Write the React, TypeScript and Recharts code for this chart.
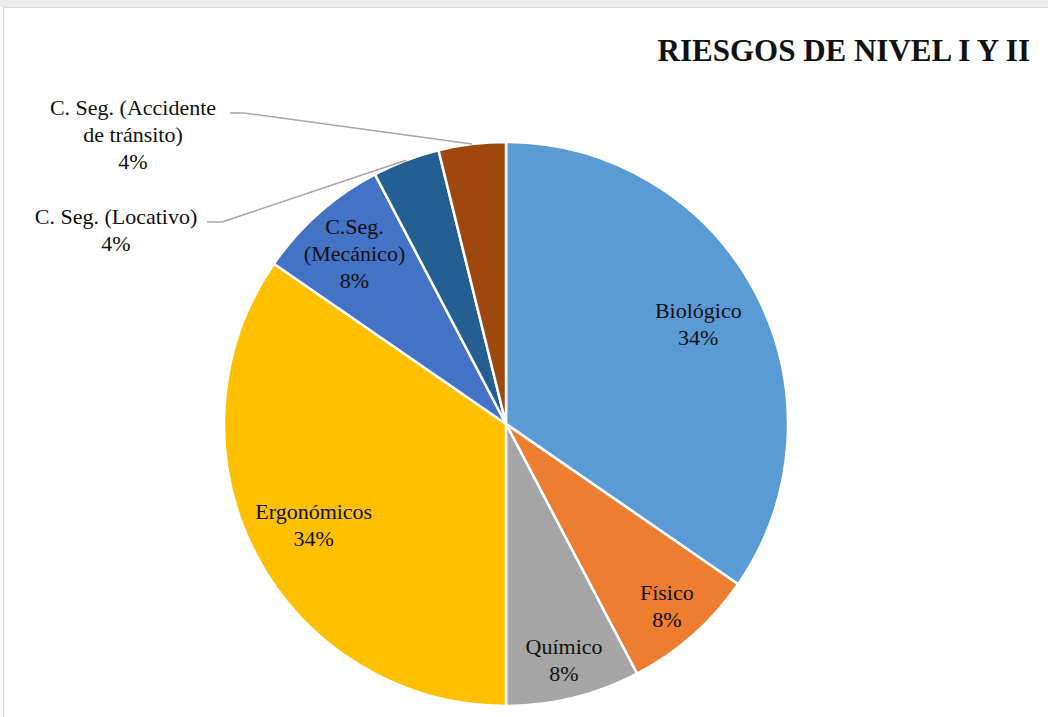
import React from 'react';
import { PieChart, Pie, Cell } from 'recharts';

// slices clockwise from 12 o'clock
const categories = [
  'Biológico',
  'Físico',
  'Químico',
  'Ergonómicos',
  'C.Seg. (Mecánico)',
  'C. Seg. (Locativo)',
  'C. Seg. (Accidente de tránsito)',
];
const counts = [9, 2, 2, 9, 2, 1, 1];
const percentLabels = ['34%', '8%', '8%', '34%', '8%', '4%', '4%'];
const labelText = [
  ['Biológico'],
  ['Físico'],
  ['Químico'],
  ['Ergonómicos'],
  ['C.Seg.', '(Mecánico)'],
  ['C. Seg. (Locativo)'],
  ['C. Seg. (Accidente', 'de tránsito)'],
];
const colors = ['#5B9BD5', '#ED7D31', '#A5A5A5', '#FFC000', '#4472C4', '#255E91', '#9E480E'];

const data = categories.map((name, i) => ({ name, value: counts[i] }));

const RADIAN = Math.PI / 180;
const FONT = '"Liberation Serif", "Times New Roman", serif';
const LINE_H = 27;

// outside labels (small slices): first line centre + leader elbow, relative to pie centre
const outside: Record<number, { tx: number; ty: number; ex: number; ey: number; sx: number }> = {
  5: { tx: -390, ty: -208, ex: -284, ey: -202, sx: -299 },
  6: { tx: -373, ty: -317, ex: -262, ey: -311, sx: -276 },
};

const renderLabel = (props: any) => {
  const { cx, cy, midAngle, outerRadius, index } = props;
  const lines = [...labelText[index], percentLabels[index]];
  const cos = Math.cos(-midAngle * RADIAN);
  const sin = Math.sin(-midAngle * RADIAN);
  let top: number;
  let x: number;
  let leader: React.ReactNode = null;
  const o = outside[index];
  if (o) {
    x = cx + o.tx;
    top = cy + o.ty;
    const px = cx + outerRadius * cos;
    const py = cy + outerRadius * sin;
    leader = (
      <polyline
        points={`${cx + o.sx},${cy + o.ey} ${cx + o.ex},${cy + o.ey} ${px},${py}`}
        fill="none"
        stroke="#A6A6A6"
        strokeWidth={1.5}
      />
    );
  } else {
    const f = counts[index] > 5 ? 0.77 : index === 4 ? 0.81 : 0.86;
    x = cx + outerRadius * f * cos;
    const y = cy + outerRadius * f * sin;
    top = y - ((lines.length - 1) * LINE_H) / 2;
  }
  return (
    <g key={`lbl-${index}`}>
      {leader}
      <text
        x={x}
        y={top}
        textAnchor="middle"
        dominantBaseline="central"
        fill="#111"
        style={{ fontFamily: FONT, fontSize: 22 }}
      >
        {lines.map((t, i) => (
          <tspan key={i} x={x} y={top + i * LINE_H} dominantBaseline="central">
            {t}
          </tspan>
        ))}
      </text>
    </g>
  );
};

export default function App() {
  return (
    <div style={{ position: 'absolute', left: 0, top: 0, width: 1048, height: 717, background: '#fff', overflow: 'hidden' }}>
      <div style={{ position: 'absolute', left: 0, top: 0, width: 1048, height: 7, background: '#ececec' }} />
      <div
        style={{
          position: 'absolute',
          left: 3,
          top: 7,
          width: 1045,
          height: 710,
          borderLeft: '1px solid #d4d4d4',
          borderTop: '1px solid #d9d9d9',
        }}
      />
      <div
        style={{
          position: 'absolute',
          right: 18,
          top: 33,
          fontFamily: FONT,
          fontWeight: 'bold',
          fontSize: 31,
          color: '#111',
          whiteSpace: 'nowrap',
        }}
      >
        RIESGOS DE NIVEL I Y II
      </div>
      <div style={{ position: 'absolute', left: 0, top: 0 }}>
        <PieChart width={1048} height={717}>
          <Pie
            data={data}
            dataKey="value"
            nameKey="name"
            cx={501}
            cy={419}
            outerRadius={282}
            startAngle={90}
            endAngle={-270}
            stroke="#fff"
            strokeWidth={2.5}
            label={renderLabel}
            labelLine={false}
            isAnimationActive={false}
          >
            {data.map((d, i) => (
              <Cell key={d.name} fill={colors[i]} />
            ))}
          </Pie>
        </PieChart>
      </div>
    </div>
  );
}
